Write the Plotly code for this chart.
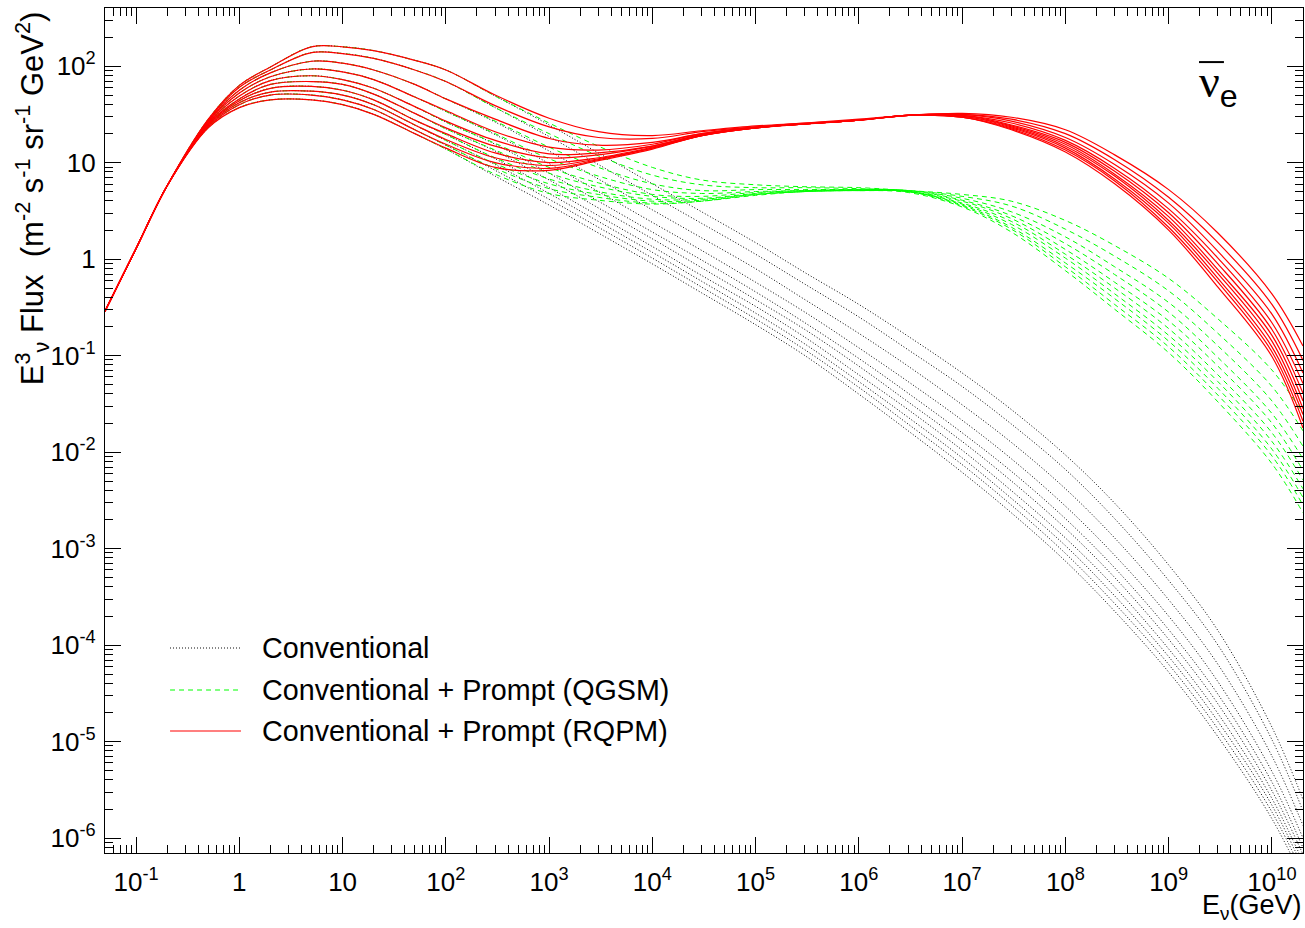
import math
import plotly.graph_objects as go

# ---------------- data ----------------
# Neutrino energies (GeV)
E_LOW = [0.05, 0.1, 0.2, 0.5, 1, 2, 5, 10, 20, 50]
E_HIGH = [1e2, 3e2, 1e3, 3e3, 1e4, 3e4, 1e5, 3e5, 1e6, 3e6,
          1e7, 3e7, 1e8, 3e8, 1e9, 3e9, 1e10, 2e10]

# log10(E^3 * flux) below 100 GeV - identical for the three models (10 zenith bins)
LOW_LOG_FLUX = [
    [-0.54, 0.11, 0.76, 1.45, 1.80, 1.99, 2.20, 2.20, 2.16, 2.06],
    [-0.54, 0.11, 0.76, 1.44, 1.78, 1.96, 2.14, 2.13, 2.08, 1.96],
    [-0.54, 0.11, 0.76, 1.43, 1.75, 1.93, 2.05, 2.03, 1.96, 1.81],
    [-0.54, 0.11, 0.76, 1.42, 1.72, 1.89, 1.97, 1.94, 1.86, 1.68],
    [-0.54, 0.11, 0.76, 1.41, 1.69, 1.85, 1.90, 1.86, 1.77, 1.58],
    [-0.54, 0.11, 0.76, 1.40, 1.66, 1.81, 1.84, 1.81, 1.71, 1.51],
    [-0.54, 0.11, 0.76, 1.39, 1.64, 1.77, 1.79, 1.75, 1.65, 1.44],
    [-0.54, 0.11, 0.76, 1.38, 1.62, 1.73, 1.74, 1.70, 1.60, 1.39],
    [-0.54, 0.11, 0.76, 1.37, 1.60, 1.70, 1.70, 1.65, 1.55, 1.34],
    [-0.54, 0.11, 0.76, 1.36, 1.57, 1.65, 1.65, 1.60, 1.50, 1.30],
]

# log10(E^3 * flux) from 100 GeV upwards
CONV_HIGH_LOG_FLUX = [
    [1.96, 1.69, 1.39, 1.10, 0.78, 0.49, 0.17, -0.14, -0.47, -0.80, -1.18, -1.56, -2.03, -2.53, -3.17, -3.85, -4.85, -5.60],
    [1.84, 1.57, 1.27, 0.98, 0.66, 0.37, 0.05, -0.26, -0.60, -0.94, -1.32, -1.71, -2.18, -2.69, -3.33, -4.00, -4.98, -5.72],
    [1.66, 1.42, 1.12, 0.83, 0.51, 0.22, -0.10, -0.42, -0.77, -1.11, -1.51, -1.90, -2.38, -2.89, -3.53, -4.20, -5.15, -5.87],
    [1.53, 1.29, 0.99, 0.70, 0.38, 0.09, -0.24, -0.55, -0.92, -1.27, -1.67, -2.07, -2.56, -3.07, -3.70, -4.38, -5.31, -6.00],
    [1.42, 1.19, 0.89, 0.60, 0.28, -0.01, -0.34, -0.66, -1.03, -1.39, -1.80, -2.20, -2.69, -3.20, -3.84, -4.51, -5.42, -6.10],
    [1.35, 1.12, 0.82, 0.53, 0.21, -0.09, -0.42, -0.73, -1.11, -1.48, -1.89, -2.30, -2.79, -3.30, -3.94, -4.61, -5.51, -6.17],
    [1.29, 1.04, 0.74, 0.45, 0.13, -0.17, -0.49, -0.81, -1.20, -1.56, -1.98, -2.40, -2.89, -3.40, -4.04, -4.71, -5.59, -6.25],
    [1.23, 0.98, 0.68, 0.39, 0.07, -0.23, -0.56, -0.88, -1.27, -1.64, -2.06, -2.48, -2.97, -3.49, -4.12, -4.79, -5.66, -6.31],
    [1.18, 0.92, 0.62, 0.33, 0.01, -0.29, -0.62, -0.94, -1.33, -1.71, -2.13, -2.55, -3.05, -3.57, -4.20, -4.87, -5.73, -6.37],
    [1.14, 0.86, 0.56, 0.27, -0.05, -0.35, -0.68, -1.00, -1.40, -1.78, -2.21, -2.63, -3.13, -3.65, -4.28, -4.95, -5.80, -6.43],
]

QGSM_HIGH_LOG_FLUX = [
    [1.96, 1.69, 1.41, 1.17, 0.95, 0.82, 0.77, 0.75, 0.74, 0.71, 0.67, 0.60, 0.40, 0.14, -0.20, -0.62, -1.15, -1.60],
    [1.84, 1.57, 1.30, 1.07, 0.87, 0.77, 0.74, 0.74, 0.73, 0.71, 0.65, 0.55, 0.31, 0.03, -0.33, -0.77, -1.32, -1.78],
    [1.66, 1.43, 1.16, 0.95, 0.78, 0.71, 0.72, 0.72, 0.72, 0.71, 0.63, 0.49, 0.23, -0.08, -0.45, -0.90, -1.47, -1.94],
    [1.53, 1.30, 1.04, 0.86, 0.72, 0.68, 0.70, 0.71, 0.72, 0.71, 0.61, 0.45, 0.16, -0.16, -0.55, -1.02, -1.60, -2.07],
    [1.42, 1.20, 0.95, 0.79, 0.67, 0.65, 0.69, 0.71, 0.72, 0.70, 0.60, 0.42, 0.10, -0.24, -0.64, -1.11, -1.70, -2.19],
    [1.35, 1.13, 0.89, 0.75, 0.65, 0.63, 0.68, 0.71, 0.71, 0.70, 0.58, 0.39, 0.05, -0.30, -0.72, -1.20, -1.80, -2.29],
    [1.29, 1.05, 0.83, 0.70, 0.62, 0.62, 0.67, 0.70, 0.71, 0.70, 0.57, 0.36, 0.01, -0.36, -0.79, -1.27, -1.89, -2.38],
    [1.23, 0.99, 0.78, 0.67, 0.60, 0.61, 0.67, 0.70, 0.71, 0.70, 0.56, 0.33, -0.04, -0.41, -0.85, -1.34, -1.97, -2.47],
    [1.18, 0.94, 0.73, 0.64, 0.58, 0.60, 0.67, 0.70, 0.71, 0.70, 0.55, 0.31, -0.08, -0.47, -0.91, -1.41, -2.04, -2.55],
    [1.14, 0.88, 0.68, 0.61, 0.57, 0.60, 0.66, 0.70, 0.71, 0.69, 0.54, 0.28, -0.12, -0.52, -0.97, -1.48, -2.12, -2.63],
]

RQPM_HIGH_LOG_FLUX = [
    [1.96, 1.70, 1.46, 1.32, 1.28, 1.33, 1.38, 1.41, 1.45, 1.49, 1.51, 1.47, 1.34, 1.08, 0.72, 0.27, -0.36, -0.90],
    [1.84, 1.59, 1.37, 1.26, 1.25, 1.32, 1.37, 1.41, 1.44, 1.49, 1.50, 1.45, 1.30, 1.03, 0.64, 0.17, -0.47, -1.05],
    [1.66, 1.45, 1.25, 1.18, 1.21, 1.30, 1.37, 1.40, 1.44, 1.49, 1.50, 1.43, 1.26, 0.98, 0.58, 0.08, -0.57, -1.18],
    [1.54, 1.32, 1.16, 1.13, 1.19, 1.30, 1.36, 1.40, 1.44, 1.49, 1.49, 1.41, 1.23, 0.94, 0.52, 0.01, -0.66, -1.29],
    [1.43, 1.23, 1.09, 1.10, 1.17, 1.29, 1.36, 1.40, 1.44, 1.49, 1.49, 1.39, 1.21, 0.91, 0.48, -0.05, -0.73, -1.39],
    [1.36, 1.17, 1.05, 1.08, 1.17, 1.29, 1.36, 1.40, 1.44, 1.49, 1.48, 1.38, 1.19, 0.88, 0.44, -0.11, -0.79, -1.47],
    [1.30, 1.10, 1.00, 1.05, 1.16, 1.28, 1.36, 1.40, 1.44, 1.49, 1.48, 1.37, 1.17, 0.86, 0.40, -0.15, -0.85, -1.55],
    [1.24, 1.05, 0.97, 1.04, 1.15, 1.28, 1.36, 1.40, 1.44, 1.49, 1.47, 1.36, 1.15, 0.83, 0.37, -0.20, -0.91, -1.61],
    [1.19, 1.00, 0.94, 1.03, 1.15, 1.28, 1.36, 1.40, 1.44, 1.49, 1.47, 1.35, 1.13, 0.81, 0.33, -0.24, -0.96, -1.68],
    [1.15, 0.95, 0.92, 1.02, 1.14, 1.28, 1.36, 1.40, 1.44, 1.49, 1.47, 1.34, 1.11, 0.78, 0.30, -0.29, -1.01, -1.75],
]

LEGEND_LABELS = ["Conventional", "Conventional + Prompt (QGSM)", "Conventional + Prompt (RQPM)"]
X_TICK_EXP = list(range(-1, 11))
Y_TICK_EXP = list(range(-6, 3))

# ---------------- figure ----------------
energies = E_LOW + E_HIGH
FONT = "Liberation Sans"

families = [
    (CONV_HIGH_LOG_FLUX, "#000000", "1px,2px", 1.0),
    (QGSM_HIGH_LOG_FLUX, "#00ff00", "5px,4px", 1.0),
    (RQPM_HIGH_LOG_FLUX, "#ff0000", "solid", 1.2),
]

fig = go.Figure()
for high, color, dash, width in families:
    for i in range(len(high)):
        logs = LOW_LOG_FLUX[i] + high[i]
        fig.add_trace(go.Scatter(
            x=energies, y=[10 ** v for v in logs], mode="lines",
            line=dict(color=color, dash=dash, width=width, shape="spline", smoothing=1.0),
            showlegend=False, hoverinfo="skip"))


def tick_text(e):
    if e == 0:
        return "1"
    if e == 1:
        return "10"
    return "10<sup>%d</sup>" % e


def minor_vals(lo, hi):
    vals = []
    for d in range(lo, hi + 1):
        for k in range(2, 10):
            vals.append(k * 10.0 ** d)
    return vals


axis_common = dict(
    type="log", showgrid=False, zeroline=False, showline=True,
    linecolor="black", linewidth=1.2, mirror="ticks",
    ticks="inside", tickcolor="black", tickwidth=1,
    tickfont=dict(family=FONT, size=26, color="black"),
)

fig.update_xaxes(
    range=[math.log10(0.05), math.log10(2e10)],
    tickmode="array", tickvals=[10.0 ** e for e in X_TICK_EXP],
    ticktext=[tick_text(e) for e in X_TICK_EXP], ticklen=16,
    minor=dict(ticks="inside", ticklen=8, tickcolor="black", tickwidth=1,
               tickmode="array", tickvals=minor_vals(-2, 10), showgrid=False),
    ticklabelstandoff=6,
    **axis_common)
fig.update_yaxes(
    range=[math.log10(7e-7), math.log10(400)],
    tickmode="array", tickvals=[10.0 ** e for e in Y_TICK_EXP],
    ticktext=[tick_text(e) for e in Y_TICK_EXP], ticklen=16,
    minor=dict(ticks="inside", ticklen=8, tickcolor="black", tickwidth=1,
               tickmode="array", tickvals=minor_vals(-7, 2), showgrid=False),
    ticklabelstandoff=3,
    **axis_common)

# legend drawn by hand (long line samples like the original)
legend_rows = [(0.2426, "#000000", "1px,2px"), (0.1929, "#00ff00", "5px,4px"), (0.1444, "#ff0000", "solid")]
for (yy, color, dash), label in zip(legend_rows, LEGEND_LABELS):
    fig.add_shape(type="line", xref="paper", yref="paper", x0=0.0543, x1=0.1135, y0=yy, y1=yy,
                  line=dict(color=color, dash=dash, width=1.2))
    fig.add_annotation(xref="paper", yref="paper", x=0.1295, y=yy, text=label, showarrow=False,
                       xanchor="left", yanchor="middle", font=dict(family=FONT, size=28.7, color="black"))

# axis titles
fig.add_annotation(xref="paper", yref="paper", x=-0.0605, y=0.998, textangle=-90,
                   text="E<sup>3</sup><sub>ν</sub> Flux  (m<sup>-2</sup> s<sup>-1</sup> sr<sup>-1</sup> GeV<sup>2</sup>)",
                   showarrow=False, xanchor="center", yanchor="top",
                   font=dict(family=FONT, size=31, color="black"))
fig.add_annotation(xref="paper", yref="paper", x=1.0, y=-0.064,
                   text="E<sub>ν</sub>(GeV)", showarrow=False, xanchor="right", yanchor="middle",
                   font=dict(family=FONT, size=27, color="black"))

# anti electron neutrino label
fig.add_annotation(xref="paper", yref="paper", x=0.9295, y=0.909,
                   text="<span style='font-family:Liberation Serif'>ν</span><sub>e</sub>",
                   showarrow=False, xanchor="center", yanchor="middle",
                   font=dict(family=FONT, size=46, color="black"))
fig.add_shape(type="line", xref="paper", yref="paper", x0=0.9132, x1=0.934, y0=0.936, y1=0.936,
              line=dict(color="black", width=2))

fig.update_layout(
    width=1305, height=928,
    margin=dict(l=105, r=2, t=8, b=75),
    paper_bgcolor="white", plot_bgcolor="white",
    showlegend=False,
)

fig.write_html("out.html", config={"displayModeBar": False},
               post_script="document.body.style.margin='0px';document.body.style.overflow='hidden';")
